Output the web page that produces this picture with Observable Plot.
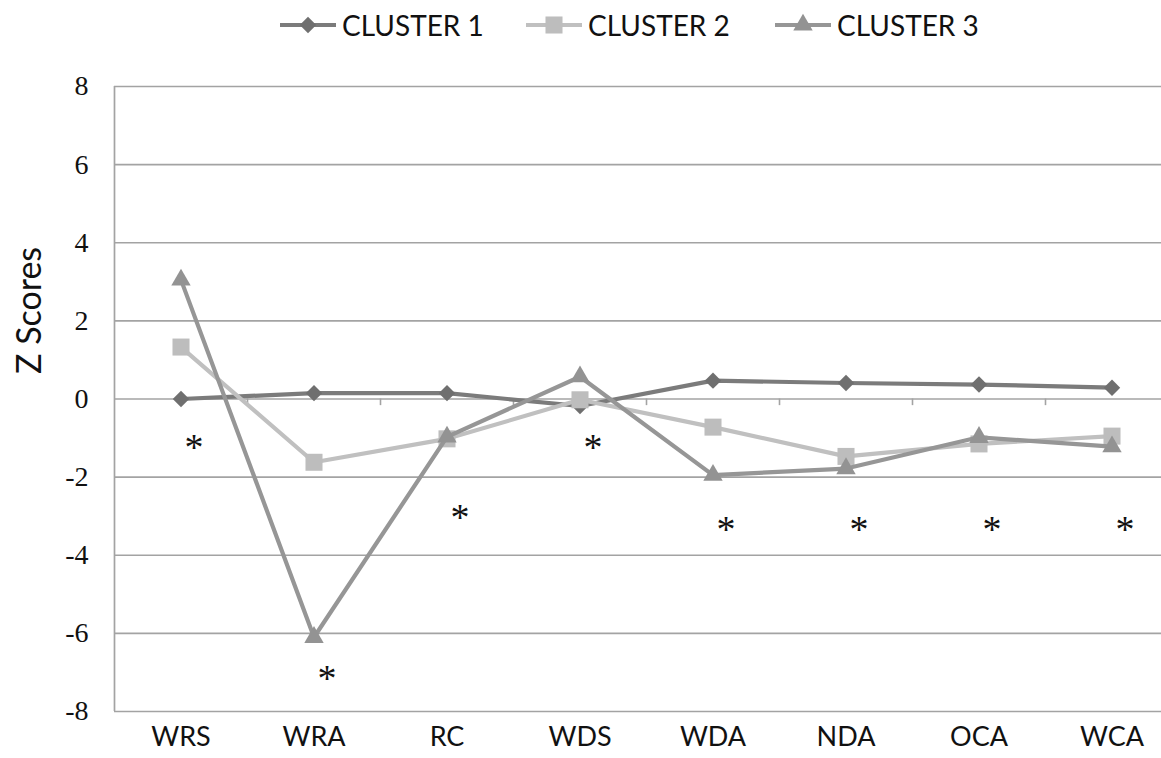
<!DOCTYPE html>
<html>
<head>
<meta charset="utf-8">
<script src="https://cdn.jsdelivr.net/npm/d3@7"></script>
<script src="https://cdn.jsdelivr.net/npm/@observablehq/plot@0.6"></script>
<style>
  html, body { margin: 0; padding: 0; background: #fff; overflow: hidden; width: 1161px; height: 758px; }
  #legend { height: 56px; position: relative; font-family: Lato, sans-serif; font-size: 28px; color: #111; }
  .item { position: absolute; top: 8px; display: flex; align-items: center; height: 34px; }
  .item span { margin-left: 5px; }
  #chart { width: 1161px; overflow: hidden; }
  #chart svg { display: block; max-width: none !important; width: 1180px !important; height: 702px !important; }
</style>
</head>
<body>
<div id="legend"></div>
<div id="chart"></div>
<script>
const categories = ["WRS", "WRA", "RC", "WDS", "WDA", "NDA", "OCA", "WCA"];
const cluster1 = [0, 0.15, 0.15, -0.18, 0.47, 0.41, 0.37, 0.29];
const cluster2 = [1.33, -1.62, -1.02, -0.02, -0.72, -1.47, -1.15, -0.95];
const cluster3 = [3.05, -6.1, -0.97, 0.57, -1.95, -1.78, -0.98, -1.22];
const asteriskY = [-1.1, -7.0, -2.9, -1.1, -3.2, -3.2, -3.2, -3.2];
const yTicks = [-8, -6, -4, -2, 0, 2, 4, 6, 8];
const seriesNames = ["CLUSTER 1", "CLUSTER 2", "CLUSTER 3"];

const seriesStyle = [
  {name: seriesNames[0], values: cluster1, color: "#7b7b7b", marker: "#6f6f6f", symbol: "diamond2", r: 7.4},
  {name: seriesNames[1], values: cluster2, color: "#c0c0c0", marker: "#bdbdbd", symbol: "square", r: 9.6},
  {name: seriesNames[2], values: cluster3, color: "#969696", marker: "#939393", symbol: "triangle", r: 7.2}
];

const rows = seriesStyle.map(s => s.values.map((v, i) => ({series: s.name, i, cat: categories[i], v})));
const asterisks = categories.map((c, i) => ({i, v: asteriskY[i]}));
const boundaries = d3.range(1, categories.length);

const marks = [
  Plot.ruleY(yTicks, {stroke: "#a3a3a3", strokeWidth: 1.7}),
  Plot.ruleX([0], {stroke: "#a3a3a3", strokeWidth: 1.7}),
  Plot.ruleX(boundaries, {y1: 0, y2: -0.17, stroke: "#a3a3a3", strokeWidth: 1.6})
];
seriesStyle.forEach((s, k) => {
  marks.push(Plot.line(rows[k], {x: d => d.i + 0.5, y: "v", stroke: s.color, strokeWidth: 4.2}));
  marks.push(Plot.dot(rows[k], {x: d => d.i + 0.5, y: "v", symbol: () => s.symbol, r: s.r, fill: s.marker, stroke: "none"}));
});
marks.push(Plot.text(asterisks, {x: d => d.i + 0.5, y: "v", text: () => "*", dx: 13, fontSize: 38, fontFamily: "Liberation Serif", fill: "#111", lineAnchor: "middle", dy: 6}));
marks.push(Plot.axisY(yTicks, {tickSize: 0, tickPadding: 26, fontSize: 28, fontFamily: "Liberation Serif", fill: "#111", label: null, tickFormat: d => String(d)}));
marks.push(Plot.axisX(categories.map((c, i) => i + 0.5), {tickSize: 0, tickPadding: 15, fontSize: 27, fontFamily: "Lato", fill: "#111", tickFormat: x => categories[Math.floor(x)], label: null}));
marks.push(Plot.text(["Z Scores"], {frameAnchor: "left", dx: -84, dy: -25, rotate: -90, fontSize: 34, fontFamily: "Lato", fill: "#111"}));

const chart = Plot.plot({
  width: 1180,
  height: 702,
  marginLeft: 114,
  marginRight: 2,
  marginTop: 30,
  marginBottom: 47,
  style: {fontFamily: "Lato", overflow: "visible", background: "#fff"},
  x: {type: "linear", domain: [0, categories.length], axis: null},
  y: {domain: [-8, 8], axis: null},
  marks
});
document.getElementById("chart").appendChild(chart);

// Legend
const legend = document.getElementById("legend");
const legendLeft = [279, 525, 774];
const symbolMap = {diamond2: d3.symbolDiamond2, square: d3.symbolSquare, triangle: d3.symbolTriangle};
seriesStyle.forEach((s, k) => {
  const item = document.createElement("div");
  item.className = "item";
  item.style.left = legendLeft[k] + "px";
  const svg = d3.create("svg").attr("width", 58).attr("height", 24);
  svg.append("line").attr("x1", 1).attr("x2", 57).attr("y1", 12).attr("y2", 12).attr("stroke", s.color).attr("stroke-width", 4.2);
  svg.append("path").attr("transform", "translate(29,12)")
    .attr("d", d3.symbol(symbolMap[s.symbol], Math.PI * s.r * s.r)()).attr("fill", s.marker);
  item.appendChild(svg.node());
  const span = document.createElement("span");
  span.textContent = s.name;
  item.appendChild(span);
  legend.appendChild(item);
});
</script>
</body>
</html>
